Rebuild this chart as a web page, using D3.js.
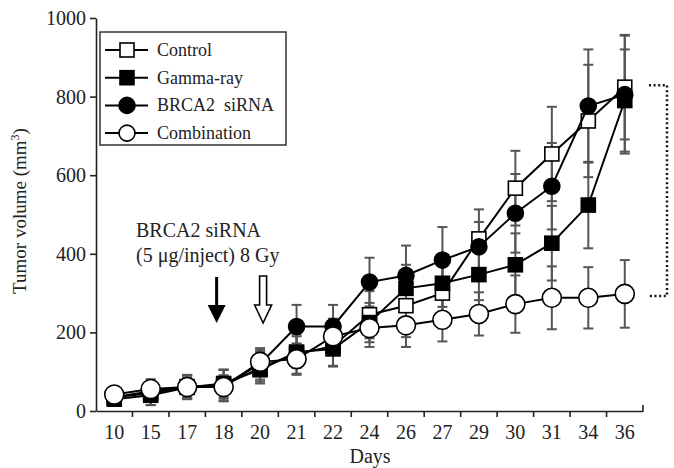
<!DOCTYPE html>
<html lang="en">
<head>
    <meta charset="UTF-8">
    <title>Tumor volume</title>
    <script src="https://cdn.jsdelivr.net/npm/d3@7"></script>
    <style>
        body { margin: 0; background: #fff; }
        text { font-family: "Liberation Serif", "DejaVu Serif", serif; fill: #222; }
    </style>
</head>
<body>
    <div id="chart-space"></div>

    <script>
        // days (categorical axis)
        var days = ["10", "15", "17", "18", "20", "21", "22", "24", "26", "27", "29", "30", "31", "34", "36"];

        // means, mm3
        var control     = [35, 45, 62, 65, 110, 145, 165, 245, 268, 300, 438, 567, 654, 738, 824];
        var gammaRay    = [30, 40, 60, 70, 105, 150, 158, 225, 312, 325, 347, 372, 427, 524, 790];
        var brca2       = [35, 50, 60, 65, 120, 215, 215, 328, 345, 384, 418, 503, 572, 776, 805];
        var combination = [42, 56, 61, 61, 125, 132, 190, 211, 218, 232, 247, 272, 288, 288, 298];

        // error bars (+/-)
        var controlErr     = [15, 30, 30, 40, 40, 50, 50, 60, 80, 90, 75, 95, 120, 143, 133];
        var gammaErr       = [15, 25, 25, 35, 30, 40, 45, 50, 60, 60, 65, 80, 95, 110, 130];
        var brca2Err       = [15, 25, 30, 40, 40, 55, 55, 62, 76, 84, 63, 100, 110, 144, 150];
        var combinationErr = [15, 25, 30, 30, 30, 40, 45, 48, 55, 55, 55, 73, 80, 78, 86];

        var yTicks = [0, 200, 400, 600, 800, 1000];

        var series = [
            {name: "Control", values: control, err: controlErr, shape: "square", fill: "#fff"},
            {name: "Gamma-ray", values: gammaRay, err: gammaErr, shape: "square", fill: "#000"},
            {name: "BRCA2\u00a0\u00a0siRNA", values: brca2, err: brca2Err, shape: "circle", fill: "#000"},
            {name: "Combination", values: combination, err: combinationErr, shape: "circle", fill: "#fff"}
        ];

        var width = 674;
        var height = 468;

        var svg = d3.select("#chart-space")
            .append("svg")
            .attr("width", width)
            .attr("height", height);

        var xScale = d3.scaleBand()
            .domain(days)
            .range([96, 643])
            .padding(0);

        var yScale = d3.scaleLinear()
            .domain([0, 1000])
            .range([411, 18]);

        function cx(i) { return xScale(days[i]) + xScale.bandwidth() / 2; }

        // axes
        var yAxis = svg.append("g")
            .attr("transform", "translate(96,0)")
            .call(d3.axisLeft(yScale).tickValues(yTicks).tickFormat(d3.format("d"))
                .tickSize(6).tickPadding(4).tickSizeOuter(0));
        yAxis.selectAll("text").attr("font-size", 20).attr("font-family", "Liberation Serif").attr("fill", "#222");

        var xAxis = svg.append("g")
            .attr("transform", "translate(0,411)")
            .call(d3.axisBottom(xScale).tickSize(0).tickPadding(14).tickSizeOuter(0));
        xAxis.selectAll("text").attr("font-size", 20).attr("font-family", "Liberation Serif").attr("fill", "#222");
        svg.selectAll(".domain").attr("stroke", "#222").attr("stroke-width", 1.6);
        svg.selectAll(".tick line").attr("stroke", "#222").attr("stroke-width", 1.6);

        // tick marks between day bands
        svg.append("g").selectAll("line")
            .data(days.slice(1))
            .join("line")
            .attr("x1", function(d) { return xScale(d); })
            .attr("x2", function(d) { return xScale(d); })
            .attr("y1", 411)
            .attr("y2", 417)
            .attr("stroke", "#222")
            .attr("stroke-width", 1.6);
        svg.append("line")
            .attr("x1", xScale.range()[1]).attr("x2", xScale.range()[1])
            .attr("y1", 411).attr("y2", 405)
            .attr("stroke", "#222").attr("stroke-width", 1.6);

        svg.append("text")
            .attr("x", 370).attr("y", 463)
            .attr("text-anchor", "middle")
            .attr("font-size", 20)
            .text("Days");

        var yTitle = svg.append("text")
            .attr("transform", "translate(26,211) rotate(-90)")
            .attr("text-anchor", "middle")
            .attr("font-size", 19);
        yTitle.append("tspan").text("Tumor volume (mm");
        yTitle.append("tspan").attr("dy", -7).attr("font-size", 12).text("3");
        yTitle.append("tspan").attr("dy", 7).text(")");

        // error bars
        series.forEach(function(s) {
            var g = svg.append("g").attr("stroke", "#555").attr("stroke-width", 2);
            s.values.forEach(function(v, i) {
                var x = cx(i);
                g.append("line").attr("x1", x).attr("x2", x)
                    .attr("y1", yScale(v - s.err[i])).attr("y2", yScale(v + s.err[i]));
                [v - s.err[i], v + s.err[i]].forEach(function(e) {
                    g.append("line").attr("x1", x - 5).attr("x2", x + 5)
                        .attr("y1", yScale(e)).attr("y2", yScale(e));
                });
            });
        });

        var line = d3.line()
            .x(function(d, i) { return cx(i); })
            .y(function(d) { return yScale(d); });

        function drawMarker(g, shape, fill, x, y, big) {
            if (shape === "square") {
                var s = 14;
                g.append("rect").attr("x", x - s / 2).attr("y", y - s / 2)
                    .attr("width", s).attr("height", s)
                    .attr("fill", fill).attr("stroke", "#000").attr("stroke-width", 1.6);
            } else {
                g.append("circle").attr("cx", x).attr("cy", y)
                    .attr("r", big ? 9.5 : 8)
                    .attr("fill", fill).attr("stroke", "#000").attr("stroke-width", 1.6);
            }
        }

        // lines and markers
        series.forEach(function(s) {
            var g = svg.append("g");
            g.append("path")
                .attr("d", line(s.values))
                .attr("fill", "none")
                .attr("stroke", "#000")
                .attr("stroke-width", 2);
            s.values.forEach(function(v, i) {
                drawMarker(g, s.shape, s.fill, cx(i), yScale(v), s.fill === "#fff");
            });
        });

        // legend
        var legend = svg.append("g");
        legend.append("rect")
            .attr("x", 100).attr("y", 32)
            .attr("width", 186).attr("height", 113)
            .attr("fill", "#fff").attr("stroke", "#333").attr("stroke-width", 1.5);
        series.forEach(function(s, i) {
            var y = 50 + i * 27.7;
            legend.append("line").attr("x1", 105).attr("x2", 148)
                .attr("y1", y).attr("y2", y).attr("stroke", "#000").attr("stroke-width", 2);
            drawMarker(legend, s.shape, s.fill, 127, y, false);
            legend.append("text").attr("x", 157).attr("y", y + 6)
                .attr("font-size", 18).text(s.name);
        });

        // annotation
        svg.append("text").attr("x", 136).attr("y", 237).attr("font-size", 20).text("BRCA2 siRNA");
        svg.append("text").attr("x", 136).attr("y", 262).attr("font-size", 20).text("(5 \u03bcg/inject) 8 Gy");

        // filled arrow (siRNA injection) and hollow arrow (8 Gy)
        var ax1 = cx(days.indexOf("18")) - 7;
        svg.append("line").attr("x1", ax1).attr("x2", ax1).attr("y1", 277).attr("y2", 308)
            .attr("stroke", "#000").attr("stroke-width", 3);
        svg.append("path")
            .attr("d", "M" + (ax1 - 9) + ",305 L" + (ax1 + 9) + ",305 L" + ax1 + ",323 Z")
            .attr("fill", "#000");

        var ax2 = cx(days.indexOf("20")) + 3;
        svg.append("path")
            .attr("d", "M" + (ax2 - 3.5) + ",276 L" + (ax2 + 3.5) + ",276 L" + (ax2 + 3.5) + ",305 L" + (ax2 + 8.5) + ",305 L" + ax2 + ",323 L" + (ax2 - 8.5) + ",305 L" + (ax2 - 3.5) + ",305 Z")
            .attr("fill", "#fff").attr("stroke", "#000").attr("stroke-width", 1.6);

        // dotted bracket comparing control and combination at day 36
        var yTop = yScale(control[control.length - 1]) - 2;
        var yBot = yScale(combination[combination.length - 1]) + 2;
        svg.append("path")
            .attr("d", "M649," + yTop + " L667," + yTop + " L667," + yBot + " L649," + yBot)
            .attr("fill", "none")
            .attr("stroke", "#111")
            .attr("stroke-width", 2.5)
            .attr("stroke-dasharray", "2,2.6");
    </script>
</body>
</html>
